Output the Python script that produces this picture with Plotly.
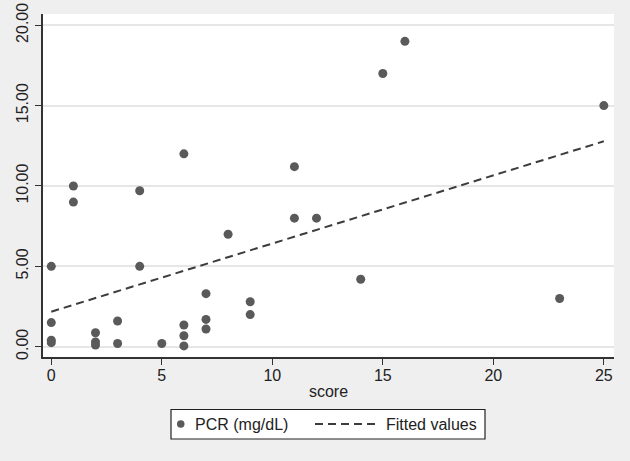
import plotly.graph_objects as go

# Scatter data: score vs PCR (mg/dL)
score = [0, 0, 0, 0,
         1, 1,
         2, 2, 2,
         3, 3,
         4, 4,
         5,
         6, 6, 6, 6,
         7, 7, 7,
         8,
         9, 9,
         11, 11,
         12,
         14,
         15,
         16,
         23,
         25]
pcr = [5.0, 1.5, 0.4, 0.25,
       10.0, 9.0,
       0.87, 0.3, 0.1,
       1.6, 0.2,
       9.7, 5.0,
       0.2,
       12.0, 1.35, 0.68, 0.05,
       3.3, 1.7, 1.1,
       7.0,
       2.8, 2.0,
       11.2, 8.0,
       8.0,
       4.2,
       17.0,
       19.0,
       3.0,
       15.0]

# Fitted values line (endpoints)
fit_x = [0, 25]
fit_y = [2.18, 12.78]

x_ticks = [0, 5, 10, 15, 20, 25]
y_ticks = [0, 5, 10, 15, 20]
y_tick_labels = ["0.00", "5.00", "10.00", "15.00", "20.00"]
legend_names = ["PCR (mg/dL)", "Fitted values"]

W, H = 630, 461
ML, MR, MT, MB = 43, 16, 14, 104
PW, PH = W - ML - MR, H - MT - MB

def px(xp):
    return (xp - ML) / PW

def py(yp):
    return (H - MB - yp) / PH

grey = "#5a5a5a"
line_grey = "#3c3c3c"
dash = "8px,5px"
font = "Liberation Sans, Arial, sans-serif"

fig = go.Figure()
fig.add_trace(go.Scatter(
    x=score, y=pcr, mode="markers", name=legend_names[0],
    marker=dict(color=grey, size=9, line=dict(width=0)),
))
fig.add_trace(go.Scatter(
    x=fit_x, y=fit_y, mode="lines", name=legend_names[1],
    line=dict(color=line_grey, width=2, dash=dash),
))

# Custom legend box (Stata style) below the plot
legend_cy = 424
shapes = [
    dict(type="rect", xref="paper", yref="paper",
         x0=px(171), x1=px(485), y0=py(409.5), y1=py(439),
         line=dict(color="#222222", width=1.2), fillcolor="white", layer="above"),
    dict(type="circle", xref="paper", yref="paper",
         x0=px(177), x1=px(184.5), y0=py(legend_cy - 3.75), y1=py(legend_cy + 3.75),
         line=dict(width=0), fillcolor=grey, layer="above"),
    dict(type="line", xref="paper", yref="paper",
         x0=px(315), x1=px(377), y0=py(legend_cy), y1=py(legend_cy),
         line=dict(color=line_grey, width=2, dash=dash), layer="above"),
]
annotations = [
    dict(text=legend_names[0], xref="paper", yref="paper", x=px(193), y=py(legend_cy),
         xanchor="left", yanchor="middle", showarrow=False,
         font=dict(size=16, color="#222222")),
    dict(text=legend_names[1], xref="paper", yref="paper", x=px(384.5), y=py(legend_cy),
         xanchor="left", yanchor="middle", showarrow=False,
         font=dict(size=16, color="#222222")),
]

fig.update_layout(
    width=W, height=H,
    margin=dict(l=ML, r=MR, t=MT, b=MB, autoexpand=False),
    paper_bgcolor="#efefef",
    plot_bgcolor="white",
    font=dict(family=font, size=16, color="#222222"),
    showlegend=False,
    shapes=shapes,
    annotations=annotations,
)
fig.update_xaxes(
    range=[-0.375, 25.46], tickvals=x_ticks, ticks="outside", ticklen=6,
    tickcolor="#333333", showline=True, linecolor="#333333", linewidth=1.5,
    showgrid=False, zeroline=False, tickfont=dict(size=16), automargin=False,
    ticklabelstandoff=-3,
    title=dict(text="score", font=dict(size=16), standoff=3),
)
fig.update_yaxes(
    range=[-0.64, 20.7], tickvals=y_ticks, ticktext=y_tick_labels,
    tickangle=-90, ticks="outside", ticklen=6, tickcolor="#333333",
    showline=True, linecolor="#333333", linewidth=1.5, automargin=False,
    showgrid=True, gridcolor="#e6e6e6", gridwidth=1.5, zeroline=False,
    tickfont=dict(size=16), ticklabelstandoff=1,
)

fig.write_html("out.html", config={"displayModeBar": False},
               post_script="document.body.style.margin='0';")
